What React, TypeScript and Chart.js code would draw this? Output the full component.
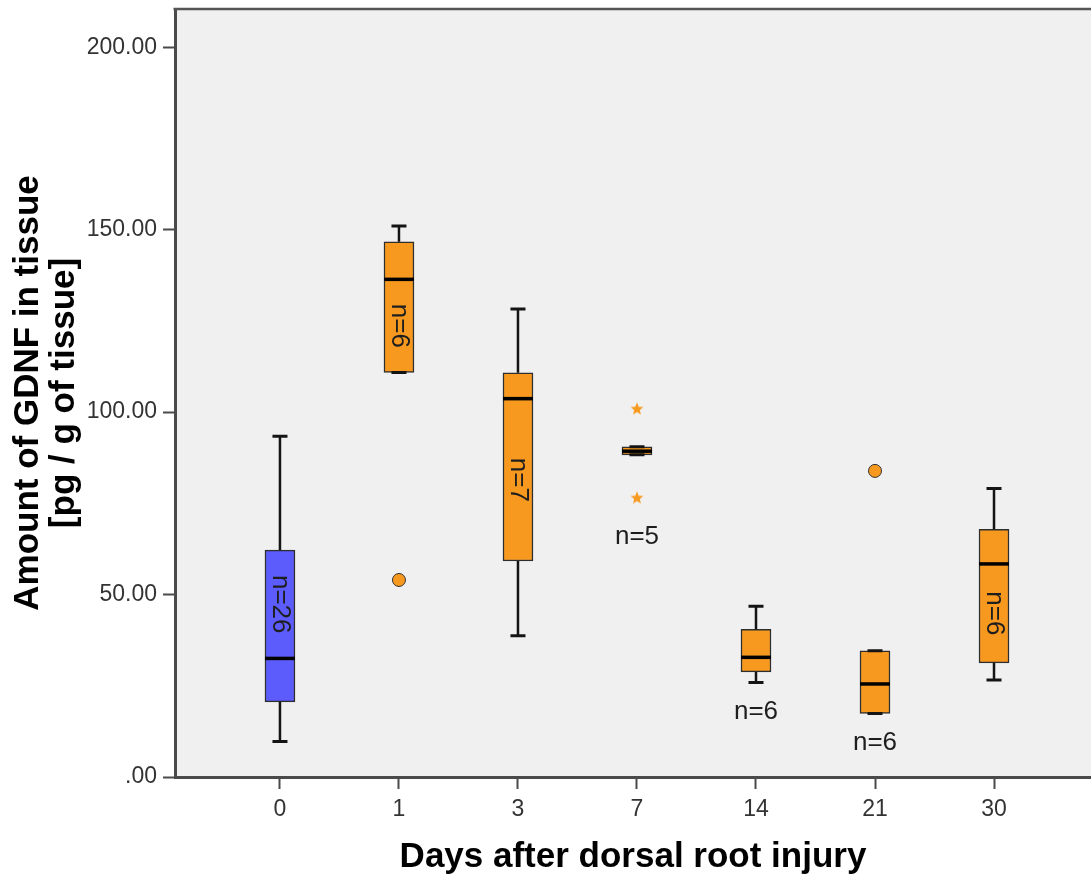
import React, { useEffect, useRef } from 'react';
import { Chart, registerables } from 'chart.js';

Chart.register(...registerables);

// ---- data ----
const days = ['0', '1', '3', '7', '14', '21', '30'];
const whiskerLow = [9.7, 110.9, 38.7, 88.3, 25.9, 17.4, 26.6];
const q1 = [20.6, 110.9, 59.2, 88.3, 28.8, 17.4, 31.3];
const medians = [32.5, 136.4, 103.7, 89.3, 32.8, 25.5, 58.4];
const q3 = [62.2, 146.7, 110.8, 90.5, 40.5, 34.6, 67.9];
const whiskerHigh = [93.4, 151.0, 128.3, 90.5, 46.8, 34.6, 79.1];
const counts = [26, 6, 7, 5, 6, 6, 6];
const outlierIndex = [1, 5];
const outlierValues = [54.0, 83.9];
const extremeIndex = [3, 3];
const extremeValues = [101.0, 76.6];
const yTickValues = [0, 50, 100, 150, 200];

// ---- styles ----
const BLUE = '#5c5cfc';
const ORANGE = '#f7991f';
const PLOT_BG = '#f0f0f0';
const AXIS = '#4a4a4a';
const FONT = "'Liberation Sans', Arial, sans-serif";

function makeStar(): HTMLCanvasElement {
  const c = document.createElement('canvas');
  c.width = 14;
  c.height = 14;
  const g = c.getContext('2d')!;
  g.fillStyle = ORANGE;
  g.beginPath();
  for (let k = 0; k < 10; k++) {
    const r = k % 2 === 0 ? 6.8 : 2.9;
    const a = -Math.PI / 2 + (k * Math.PI) / 5;
    const px = 7 + r * Math.cos(a);
    const py = 7.5 + r * Math.sin(a);
    if (k === 0) g.moveTo(px, py);
    else g.lineTo(px, py);
  }
  g.closePath();
  g.fill();
  return c;
}

const boxPlugin = {
  id: 'boxDetails',
  beforeDraw(chart: any) {
    const { ctx, chartArea } = chart;
    ctx.save();
    ctx.fillStyle = PLOT_BG;
    ctx.fillRect(chartArea.left, chartArea.top, chartArea.right - chartArea.left, chartArea.bottom - chartArea.top);
    ctx.restore();
  },
  afterDatasetsDraw(chart: any) {
    const { ctx } = chart;
    const xs = chart.scales.x;
    const ys = chart.scales.y;
    const meta = chart.getDatasetMeta(0);
    ctx.save();
    days.forEach((_, i) => {
      const cx = xs.getPixelForValue(i);
      const half = (meta.data[i].width || 30) / 2;
      const capHalf = half / 2;
      const yq1 = ys.getPixelForValue(q1[i]);
      const yq3 = ys.getPixelForValue(q3[i]);
      const yLo = ys.getPixelForValue(whiskerLow[i]);
      const yHi = ys.getPixelForValue(whiskerHigh[i]);
      const yMed = ys.getPixelForValue(medians[i]);
      ctx.strokeStyle = '#141414';
      ctx.lineCap = 'butt';
      // whiskers
      ctx.lineWidth = 2.5;
      ctx.beginPath();
      ctx.moveTo(cx, yq3);
      ctx.lineTo(cx, yHi);
      ctx.moveTo(cx, yq1);
      ctx.lineTo(cx, yLo);
      ctx.stroke();
      // caps
      ctx.lineWidth = 3;
      ctx.beginPath();
      ctx.moveTo(cx - capHalf, yHi);
      ctx.lineTo(cx + capHalf, yHi);
      ctx.moveTo(cx - capHalf, yLo);
      ctx.lineTo(cx + capHalf, yLo);
      ctx.stroke();
      // median
      ctx.lineWidth = 3.5;
      ctx.strokeStyle = '#000';
      ctx.beginPath();
      ctx.moveTo(cx - half, yMed);
      ctx.lineTo(cx + half, yMed);
      ctx.stroke();

      // n labels
      const label = 'n=' + counts[i];
      ctx.fillStyle = '#1e1e1e';
      ctx.font = `26px ${FONT}`;
      ctx.textAlign = 'center';
      ctx.textBaseline = 'middle';
      const boxPx = yq1 - yq3;
      if (boxPx > 80) {
        const upper = yMed - yq3;
        const lower = yq1 - yMed;
        const ly = upper >= lower ? (yq3 + yMed) / 2 : (yMed + yq1) / 2;
        ctx.save();
        ctx.translate(cx, ly);
        ctx.rotate(Math.PI / 2);
        ctx.fillText(label, 0, 0);
        ctx.restore();
      } else {
        let lowest = yLo;
        let fromPoint = false;
        const pts = [
          ...outlierIndex.map((idx, k) => [idx, outlierValues[k]]),
          ...extremeIndex.map((idx, k) => [idx, extremeValues[k]]),
        ];
        pts.forEach(([idx, v]) => {
          if (idx === i) {
            const py = ys.getPixelForValue(v);
            if (py > lowest) {
              lowest = py;
              fromPoint = true;
            }
          }
        });
        ctx.fillText(label, cx, lowest + 29 + (fromPoint ? 10 : 0));
      }
    });
    ctx.restore();
  },
  afterDraw(chart: any) {
    const { ctx, chartArea } = chart;
    ctx.save();
    ctx.strokeStyle = '#555';
    ctx.lineWidth = 2.5;
    ctx.beginPath();
    ctx.moveTo(chartArea.left - 1.5, chartArea.top);
    ctx.lineTo(chartArea.right, chartArea.top);
    ctx.stroke();
    ctx.restore();
  },
};

export default function App() {
  const ref = useRef<HTMLCanvasElement | null>(null);

  useEffect(() => {
    if (!ref.current) return;
    const star = makeStar();
    const chart = new Chart(ref.current, {
      type: 'bar',
      data: {
        datasets: [
          {
            type: 'bar',
            data: days.map((_, i) => ({ x: i, y: [q1[i], q3[i]] })) as any,
            backgroundColor: days.map((_, i) => (i === 0 ? BLUE : ORANGE)),
            borderColor: '#2e2e2e',
            borderWidth: 1.5,
            borderSkipped: false,
            barThickness: 30,
            grouped: false,
            order: 2,
          } as any,
          {
            type: 'scatter',
            data: outlierIndex.map((idx, k) => ({ x: idx, y: outlierValues[k] })),
            pointStyle: 'circle',
            pointRadius: 6.5,
            backgroundColor: ORANGE,
            borderColor: '#333',
            borderWidth: 1,
            order: 1,
          } as any,
          {
            type: 'scatter',
            data: extremeIndex.map((idx, k) => ({ x: idx, y: extremeValues[k] })),
            pointStyle: star,
            pointRadius: 7,
            backgroundColor: ORANGE,
            borderColor: ORANGE,
            order: 1,
          } as any,
        ],
      },
      options: {
        responsive: false,
        animation: false,
        events: [],
        layout: { autoPadding: false, padding: { top: 9, left: 0, right: 0, bottom: 0 } },
        plugins: {
          legend: { display: false },
          tooltip: { enabled: false },
          title: { display: false },
        },
        scales: {
          x: {
            type: 'linear',
            offset: false,
            min: -0.882,
            max: 6.815,
            afterBuildTicks: (s: any) => {
              s.ticks = days.map((_, i) => ({ value: i }));
            },
            afterFit: (s: any) => {
              s.height = 101;
              s.paddingLeft = 0;
              s.paddingRight = 0;
            },
            ticks: {
              callback: (v: any) => days[Math.round(Number(v))] ?? '',
              font: { family: FONT, size: 23 },
              color: '#333',
              padding: 7,
              maxRotation: 0,
              autoSkip: false,
            },
            grid: {
              offset: false,
              drawOnChartArea: false,
              drawTicks: true,
              tickLength: 12,
              tickColor: AXIS,
              tickWidth: 2,
            },
            border: { display: true, color: AXIS, width: 3 },
            title: {
              display: true,
              text: 'Days after dorsal root injury',
              font: { family: FONT, size: 35, weight: 'bold' },
              color: '#000',
              padding: { top: 0, bottom: 0 },
            },
          },
          y: {
            type: 'linear',
            min: 0,
            max: 210.5,
            afterBuildTicks: (s: any) => {
              s.ticks = yTickValues.map((v) => ({ value: v }));
            },
            afterFit: (s: any) => {
              s.width = 175;
              s.paddingTop = 0;
              s.paddingBottom = 0;
            },
            ticks: {
              callback: (v: any) => (Number(v) === 0 ? '.00' : Number(v).toFixed(2)),
              font: { family: FONT, size: 23 },
              color: '#333',
              padding: 6,
            },
            grid: {
              drawOnChartArea: false,
              drawTicks: true,
              tickLength: 12,
              tickColor: AXIS,
              tickWidth: 2,
            },
            border: { display: true, color: AXIS, width: 3 },
            title: {
              display: true,
              text: ['Amount of GDNF in tissue', '[pg / g of tissue]'],
              font: { family: FONT, size: 35, weight: 'bold', lineHeight: 1.03 },
              color: '#000',
              padding: { top: 10, bottom: 0 },
            },
          },
        },
      } as any,
      plugins: [boxPlugin],
    });
    return () => chart.destroy();
  }, []);

  return (
    <div style={{ position: 'absolute', left: 0, top: 0, width: 1091, height: 878, background: '#fff' }}>
      <canvas ref={ref} width={1091} height={878} style={{ display: 'block' }} />
    </div>
  );
}
